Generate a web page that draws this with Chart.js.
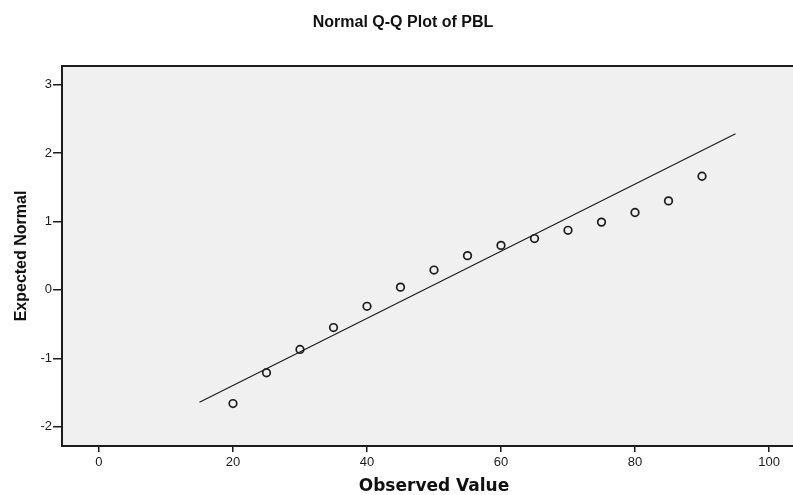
<!DOCTYPE html>
<html>
<head>
<meta charset="utf-8">
<script src="https://cdn.jsdelivr.net/npm/chart.js@4.4.1/dist/chart.umd.min.js"></script>
<style>
    body { margin: 0; background: #fff; overflow: hidden; }
    #qq-chart { display: block; }
</style>
</head>
<body>
<!-- the plot box runs a little past the right edge of the picture, so the canvas is wider than the window -->
<canvas id="qq-chart" width="806" height="495"></canvas>
<script>
// observed values and their expected normal quantiles
const observed = [20, 25, 30, 35, 40, 45, 50, 55, 60, 65, 70, 75, 80, 85, 90];
const expected = [-1.66, -1.21, -0.87, -0.55, -0.24, 0.04, 0.29, 0.50, 0.65, 0.75, 0.87, 0.99, 1.13, 1.30, 1.66];

// reference line ends
const lineX = [15, 95];
const lineY = [-1.64, 2.28];

const xTicks = [0, 20, 40, 60, 80, 100];
const yTicks = [-2, -1, 0, 1, 2, 3];

const fontFamily = "'Liberation Sans', Arial, sans-serif";
const ink = '#1c1c1c';

// grey plot background + top border line
const plotBox = {
    id: 'plotBox',
    beforeDraw(chart) {
        const { ctx, chartArea: a } = chart;
        ctx.save();
        ctx.fillStyle = '#f0f0f0';
        ctx.fillRect(a.left, a.top, a.right - a.left, a.bottom - a.top);
        ctx.restore();
    },
    afterDraw(chart) {
        const { ctx, chartArea: a } = chart;
        ctx.save();
        ctx.strokeStyle = ink;
        ctx.lineWidth = 2;
        ctx.beginPath();
        ctx.moveTo(a.left, a.top);
        ctx.lineTo(a.right, a.top);
        ctx.stroke();
        ctx.restore();
    }
};

const ctx = document.getElementById('qq-chart').getContext('2d');
const qqChart = new Chart(ctx, {
    type: 'scatter',
    data: {
        datasets: [
            {
                label: 'Observed',
                data: observed.map((x, i) => ({ x: x, y: expected[i] })),
                pointRadius: 3.8,
                pointHoverRadius: 3.8,
                borderWidth: 1.7,
                borderColor: ink,
                backgroundColor: 'rgba(0,0,0,0)'
            },
            {
                type: 'line',
                label: 'Line',
                data: lineX.map((x, i) => ({ x: x, y: lineY[i] })),
                borderColor: ink,
                borderWidth: 1.2,
                pointRadius: 0,
                fill: false
            }
        ]
    },
    options: {
        responsive: false,
        animation: false,
        devicePixelRatio: 1,
        layout: { padding: 0, autoPadding: false },
        plugins: {
            legend: { display: false },
            tooltip: { enabled: false },
            title: {
                display: true,
                text: 'Normal Q-Q Plot of PBL',
                color: '#111',
                font: { family: fontFamily, size: 16, weight: 'bold', lineHeight: 1.2 },
                padding: { top: 12.5, bottom: 34.3 }
            }
        },
        scales: {
            x: {
                type: 'linear',
                min: -5.52,
                max: 105.52,
                afterBuildTicks: (scale) => { scale.ticks = xTicks.map(v => ({ value: v })); },
                afterFit: (scale) => {
                    scale.height = 49;
                    scale.paddingLeft = 0;
                    scale.paddingRight = 0;
                },
                grid: { drawOnChartArea: false, color: ink, tickLength: 6, lineWidth: 1.5 },
                border: { color: ink, width: 2 },
                ticks: { color: ink, padding: 3, font: { family: fontFamily, size: 13 } },
                title: {
                    display: true,
                    text: 'Observed Value',
                    color: '#111',
                    padding: 0,
                    font: { family: "'DejaVu Sans', Verdana, sans-serif", size: 17, weight: 'bold', lineHeight: 1 }
                }
            },
            y: {
                type: 'linear',
                min: -2.28,
                max: 3.27,
                afterBuildTicks: (scale) => { scale.ticks = yTicks.map(v => ({ value: v })); },
                afterFit: (scale) => {
                    scale.width = 62;
                    scale.paddingTop = 0;
                    scale.paddingBottom = 0;
                },
                grid: { drawOnChartArea: false, color: ink, tickLength: 9, lineWidth: 1.5 },
                border: { color: ink, width: 2 },
                ticks: { color: ink, padding: 1, font: { family: fontFamily, size: 13 } },
                title: {
                    display: true,
                    text: 'Expected Normal',
                    color: '#111',
                    padding: { top: 14, bottom: 0 },
                    font: { family: fontFamily, size: 16, weight: 'bold', lineHeight: 1 }
                }
            }
        }
    },
    plugins: [plotBox]
});
</script>
</body>
</html>
